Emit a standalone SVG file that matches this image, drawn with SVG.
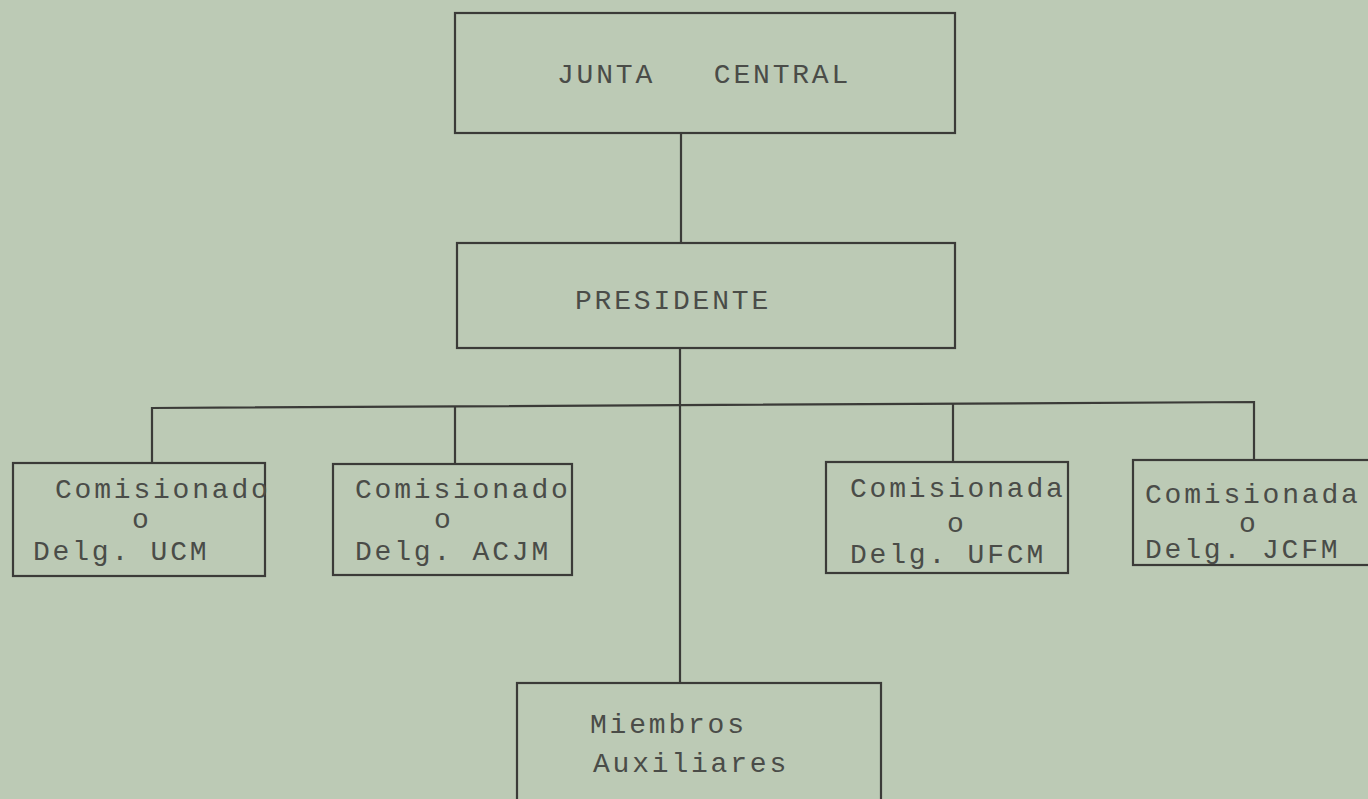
<svg xmlns="http://www.w3.org/2000/svg" width="1368" height="799" viewBox="0 0 1368 799">
<style>
.bg{fill:#bccab5}
.box{fill:none;stroke:#3b3b38;stroke-width:2.2}
.ln{fill:none;stroke:#3b3b38;stroke-width:2.2}
text{font-family:"Liberation Mono","DejaVu Sans Mono",monospace;font-size:28px;fill:#4a4c48;letter-spacing:2.8px;white-space:pre}
</style>
<rect class="bg" x="0" y="0" width="1368" height="799"/>
<g id="connectors">
<line class="ln" x1="681" y1="133" x2="681" y2="243"/>
<line class="ln" x1="680" y1="348" x2="680" y2="683"/>
<polyline class="ln" points="152,463 152,408 1254,402 1254,460"/>
<line class="ln" x1="455" y1="407" x2="455" y2="464"/>
<line class="ln" x1="953" y1="403" x2="953" y2="462"/>
</g>
<g id="junta">
<rect class="box" x="455" y="13" width="500" height="120"/>
<text x="557" y="83" xml:space="preserve">JUNTA   CENTRAL</text>
</g>
<g id="presidente">
<rect class="box" x="457" y="243" width="498" height="105"/>
<text x="575" y="309">PRESIDENTE</text>
</g>
<g id="ucm">
<rect class="box" x="13" y="463" width="252" height="113"/>
<text x="55" y="498">Comisionado</text>
<text x="132" y="528">o</text>
<text x="33" y="560">Delg. UCM</text>
</g>
<g id="acjm">
<rect class="box" x="333" y="464" width="239" height="111"/>
<text x="355" y="498">Comisionado</text>
<text x="434" y="528">o</text>
<text x="355" y="560">Delg. ACJM</text>
</g>
<g id="ufcm">
<rect class="box" x="826" y="462" width="242" height="111"/>
<text x="850" y="497">Comisionada</text>
<text x="947" y="532">o</text>
<text x="850" y="563">Delg. UFCM</text>
</g>
<g id="jcfm">
<rect class="box" x="1133" y="460" width="250" height="105"/>
<text x="1145" y="503">Comisionada</text>
<text x="1239" y="532">o</text>
<text x="1145" y="558">Delg.</text>
<text x="1262" y="558">JCFM</text>
</g>
<g id="miembros">
<rect class="box" x="517" y="683" width="364" height="130"/>
<text x="590" y="733">Miembros</text>
<text x="593" y="772">Auxiliares</text>
</g>
</svg>
